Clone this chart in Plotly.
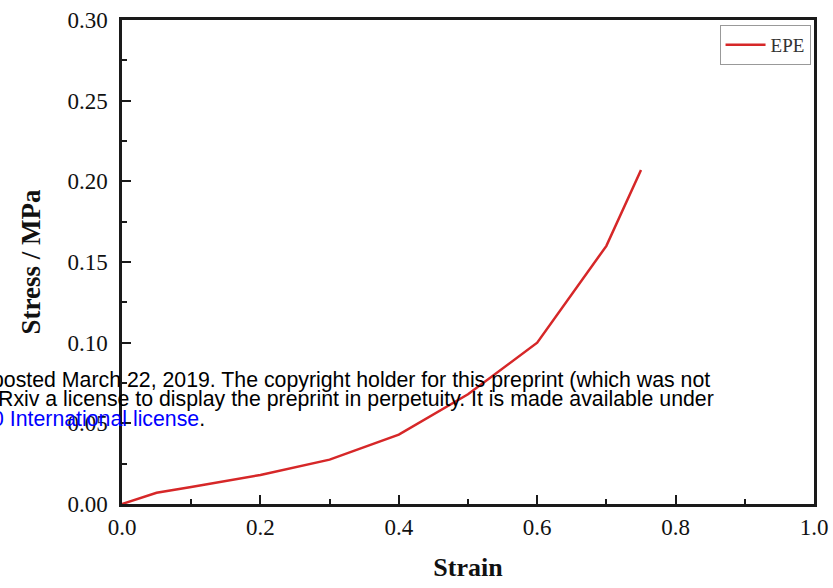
import plotly.graph_objects as go

# Stress-strain curve of EPE foam
strain = [0.0, 0.05, 0.1, 0.2, 0.3, 0.4, 0.5, 0.6, 0.7, 0.75]
stress = [0.0, 0.007, 0.0105, 0.018, 0.0275, 0.043, 0.068, 0.100, 0.160, 0.207]
series_name = "EPE"

x_ticks = [0.0, 0.2, 0.4, 0.6, 0.8, 1.0]
x_tick_labels = ["0.0", "0.2", "0.4", "0.6", "0.8", "1.0"]
y_ticks = [0.00, 0.05, 0.10, 0.15, 0.20, 0.25, 0.30]
y_tick_labels = ["0.00", "0.05", "0.10", "0.15", "0.20", "0.25", "0.30"]

notice_lines = [
    "posted March 22, 2019. The copyright holder for this preprint (which was not",
    "Rxiv a license to display the preprint in perpetuity. It is made available under",
]
license_link = "0 International license"

W, H = 833, 588
L, R, T, B = 122, 19, 20, 84
plot_w = W - L - R
plot_h = H - T - B


def px_x(px):
    return (px - L) / plot_w


def px_y(py):
    return (H - B - py) / plot_h


serif = "Liberation Serif"
axis_color = "#1a1a1a"

fig = go.Figure()
fig.add_trace(go.Scatter(
    x=strain, y=stress, mode="lines", name=series_name,
    line=dict(color="#d62728", width=2.5),
))

axis_common = dict(
    showline=True, linecolor=axis_color, linewidth=2.5, mirror=True,
    ticks="inside", tickcolor=axis_color, tickwidth=2, ticklen=9,
    showgrid=False, zeroline=False,
    tickfont=dict(family=serif, size=23, color="#111"),
)

fig.update_xaxes(
    range=[0, 1], tickvals=x_ticks, ticktext=x_tick_labels,
    minor=dict(ticks="inside", dtick=0.1, ticklen=5, tickwidth=2, tickcolor=axis_color),
    ticklabelstandoff=1,
    title=dict(text="<b>Strain</b>", font=dict(family=serif, size=26, color="#111"), standoff=19),
    **axis_common,
)
fig.update_yaxes(
    range=[0, 0.3], tickvals=y_ticks, ticktext=y_tick_labels,
    minor=dict(ticks="inside", dtick=0.025, ticklen=5, tickwidth=2, tickcolor=axis_color),
    ticklabelstandoff=7,
    title=dict(text="<b>Stress / MPa</b>", font=dict(family=serif, size=27, color="#111"), standoff=19),
    **axis_common,
)

annotations = []
sans = dict(family="Liberation Sans", size=21.3)
annotations.append(dict(
    text=notice_lines[0], xref="paper", yref="paper", x=px_x(712), y=px_y(379.5),
    xanchor="right", yanchor="middle", showarrow=False, font=dict(color="#000", **sans),
))
annotations.append(dict(
    text=notice_lines[1], xref="paper", yref="paper", x=px_x(716), y=px_y(398.5),
    xanchor="right", yanchor="middle", showarrow=False, font=dict(color="#000", **sans),
))
annotations.append(dict(
    text=f"<span style='color:#0000ff'>{license_link}</span>.", xref="paper", yref="paper",
    x=px_x(207), y=px_y(418.5),
    xanchor="right", yanchor="middle", showarrow=False, font=dict(color="#000", **sans),
))

fig.update_layout(
    width=W, height=H,
    margin=dict(l=L, r=R, t=T, b=B, autoexpand=False),
    paper_bgcolor="white", plot_bgcolor="white",
    showlegend=True,
    legend=dict(
        x=0.995, y=0.99, xanchor="right", yanchor="top",
        bordercolor="#999", borderwidth=1, bgcolor="white",
        font=dict(family=serif, size=19, color="#333"),
        tracegroupgap=0, itemwidth=40,
    ),
    annotations=annotations,
)

fig.write_html("out.html")
